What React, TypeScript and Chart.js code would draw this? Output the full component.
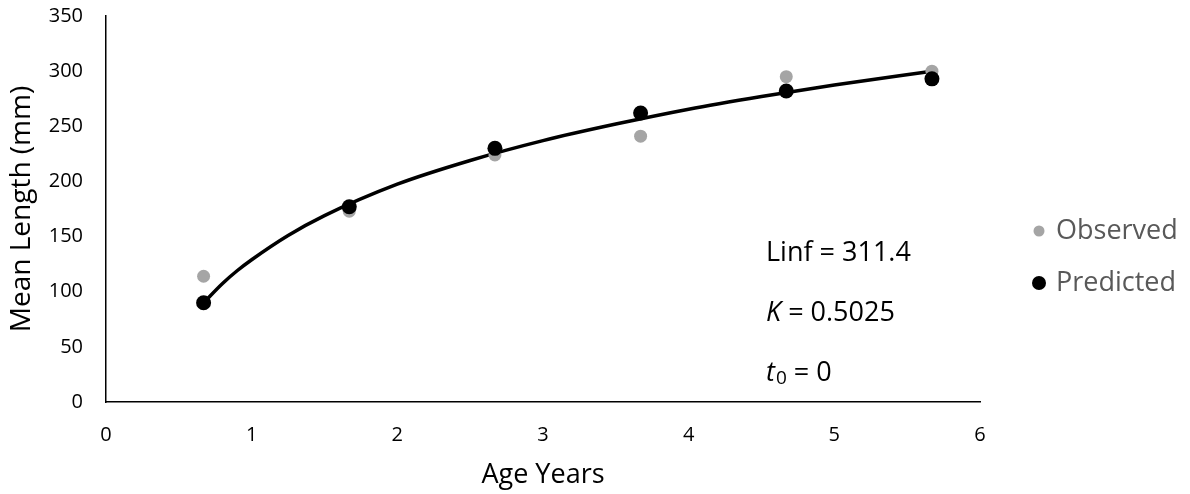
import { useEffect, useRef } from "react";
import { Chart, registerables } from "chart.js";

Chart.register(...registerables);

// Age (years) of each sample group
const ages = [0.67, 1.67, 2.67, 3.67, 4.67, 5.67];
// Mean lengths (mm)
const observed = [114, 173, 224, 241, 295, 300];
const predicted = [90, 177, 230, 262, 282, 293];
// Fitted growth curve
const curveAges = [0.67, 0.8, 0.9, 1, 1.25, 1.5, 2, 2.5, 3, 3.5, 4, 4.5, 5, 5.67];
const curveLengths = [90, 107.5, 119, 129, 151, 169, 197.5, 219, 237, 252, 265.5, 277, 287.5, 300];

const xTicks = [0, 1, 2, 3, 4, 5, 6];
const yTicks = [0, 50, 100, 150, 200, 250, 300, 350];

const legendLabels = ["Observed", "Predicted"];
const linfText = "Linf = 311.4";
const kValue = " = 0.5025";
const t0Value = " = 0";

const FONT = "'Open Sans', sans-serif";
const OBS_COLOR = "#A5A5A5";
const PRED_COLOR = "#000000";

const overlayPlugin = {
  id: "overlay",
  afterDraw(chart: Chart) {
    const ctx = chart.ctx;
    ctx.save();

    // Legend on the right
    const legendColors = [OBS_COLOR, PRED_COLOR];
    const legendRadius = [5.5, 7];
    const legendY = [231, 283];
    legendLabels.forEach((label, i) => {
      ctx.beginPath();
      ctx.fillStyle = legendColors[i];
      ctx.arc(1039, legendY[i], legendRadius[i], 0, Math.PI * 2);
      ctx.fill();
      ctx.fillStyle = "#595959";
      ctx.font = `27px ${FONT}`;
      ctx.textBaseline = "middle";
      ctx.textAlign = "left";
      ctx.fillText(label, 1056, legendY[i]);
    });

    // Model parameters
    const px = 766;
    ctx.fillStyle = "#000";
    ctx.textBaseline = "middle";
    ctx.textAlign = "left";
    ctx.font = `27px ${FONT}`;
    ctx.fillText(linfText, px, 253);

    ctx.font = `italic 27px ${FONT}`;
    ctx.fillText("K", px, 313);
    let w = ctx.measureText("K").width;
    ctx.font = `27px ${FONT}`;
    ctx.fillText(kValue, px + w, 313);

    ctx.font = `italic 27px ${FONT}`;
    ctx.fillText("t", px, 373);
    w = ctx.measureText("t").width;
    ctx.font = `19px ${FONT}`;
    ctx.fillText("0", px + w + 1, 379);
    const w2 = ctx.measureText("0").width;
    ctx.font = `27px ${FONT}`;
    ctx.fillText(t0Value, px + w + 1 + w2, 373);

    ctx.restore();
  },
};

export default function App() {
  const canvasRef = useRef<HTMLCanvasElement | null>(null);

  useEffect(() => {
    document.body.style.margin = "0";
    const canvas = canvasRef.current;
    if (!canvas) return;

    const chart = new Chart(canvas, {
      type: "scatter",
      data: {
        datasets: [
          {
            label: "Predicted",
            data: ages.map((x, i) => ({ x, y: predicted[i] })),
            backgroundColor: PRED_COLOR,
            pointBackgroundColor: PRED_COLOR,
            pointBorderWidth: 0,
            pointRadius: 7.5,
            showLine: false,
          },
          {
            label: "Observed",
            data: ages.map((x, i) => ({ x, y: observed[i] })),
            backgroundColor: OBS_COLOR,
            pointBackgroundColor: OBS_COLOR,
            pointBorderWidth: 0,
            pointRadius: 6.5,
            showLine: false,
          },
          {
            label: "Fit",
            data: curveAges.map((x, i) => ({ x, y: curveLengths[i] })),
            showLine: true,
            borderColor: "#000",
            borderWidth: 3.5,
            pointRadius: 0,
            cubicInterpolationMode: "monotone",
            fill: false,
          },
        ],
      },
      options: {
        animation: false,
        responsive: false,
        devicePixelRatio: 1,
        layout: { padding: { left: 0, right: 210, top: 16, bottom: 0 } },
        plugins: {
          legend: { display: false },
          tooltip: { enabled: false },
        },
        scales: {
          x: {
            type: "linear",
            min: 0,
            max: 6,
            afterFit: (s: any) => {
              s.height = 92;
              s.paddingLeft = 0;
              s.paddingRight = 0;
            },
            afterBuildTicks: (s: any) => {
              s.ticks = xTicks.map((v) => ({ value: v }));
            },
            grid: { display: false, drawTicks: false },
            border: { display: true, color: "#000", width: 1.5 },
            ticks: {
              padding: 21,
              color: "#000",
              font: { family: FONT, size: 20 },
              callback: (v: any) => String(v),
            },
            title: {
              display: true,
              text: "Age Years",
              color: "#000",
              font: { family: FONT, size: 27 },
              padding: { top: 0, bottom: 2 },
            },
          },
          y: {
            type: "linear",
            min: 0,
            max: 350,
            afterFit: (s: any) => {
              s.width = 106;
              s.paddingTop = 0;
              s.paddingBottom = 0;
            },
            afterBuildTicks: (s: any) => {
              s.ticks = yTicks.map((v) => ({ value: v }));
            },
            grid: { display: false, drawTicks: false },
            border: { display: true, color: "#000", width: 1.5 },
            ticks: {
              padding: 23,
              color: "#000",
              font: { family: FONT, size: 20 },
              callback: (v: any) => String(v),
            },
            title: {
              display: true,
              text: "Mean Length (mm)",
              color: "#000",
              font: { family: FONT, size: 28 },
              padding: { top: 5, bottom: 0 },
            },
          },
        },
      },
      plugins: [overlayPlugin],
    });

    return () => chart.destroy();
  }, []);

  return (
    <div style={{ width: 1190, height: 494 }}>
      <canvas ref={canvasRef} width={1190} height={494} />
    </div>
  );
}
